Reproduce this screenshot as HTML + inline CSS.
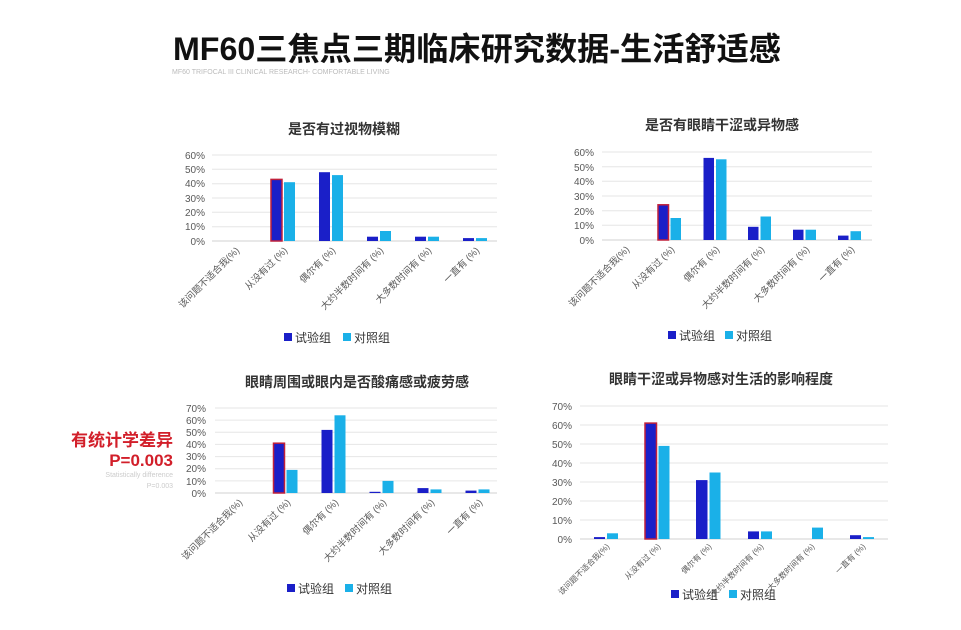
<!DOCTYPE html>
<html><head><meta charset="utf-8"><style>
html,body{margin:0;padding:0;background:#fff;}
svg{display:block;font-family:"Liberation Sans","Noto Sans CJK SC",sans-serif;}
.g{stroke:#e6e6e6;stroke-width:1}
.yl{font-size:10px;fill:#595959;text-anchor:end}
.xl{font-size:9.5px;fill:#595959;text-anchor:end}
.xs{font-size:8px;fill:#595959;text-anchor:end}
.e{fill:#1a1fc8}.c{fill:#1ab0e8}
.r{fill:#1a1fc8;stroke:#c0203a;stroke-width:1.5}
.t{font-size:14px;font-weight:bold;fill:#333;text-anchor:middle}
.lg{font-size:12px;fill:#333}
</style></head><body>
<svg width="961" height="630" viewBox="0 0 961 630">
<text x="477" y="60" font-size="32" font-weight="bold" text-anchor="middle" fill="#111" textLength="608" lengthAdjust="spacingAndGlyphs">MF60三焦点三期临床研究数据-生活舒适感</text>
<text x="172" y="74" font-size="7" fill="#bbb">MF60 TRIFOCAL III CLINICAL RESEARCH- COMFORTABLE LIVING</text>

<!-- Chart 1 -->
<text class="t" x="344" y="134">是否有过视物模糊</text>
<g>
<line class="g" x1="212" x2="497" y1="155" y2="155"/><line class="g" x1="212" x2="497" y1="169.3" y2="169.3"/><line class="g" x1="212" x2="497" y1="183.7" y2="183.7"/><line class="g" x1="212" x2="497" y1="198" y2="198"/><line class="g" x1="212" x2="497" y1="212.3" y2="212.3"/><line class="g" x1="212" x2="497" y1="226.7" y2="226.7"/><line x1="212" x2="497" y1="241" y2="241" stroke="#d0d0d0"/>
<text class="yl" x="205" y="159">60%</text><text class="yl" x="205" y="173">50%</text><text class="yl" x="205" y="187">40%</text><text class="yl" x="205" y="202">30%</text><text class="yl" x="205" y="216">20%</text><text class="yl" x="205" y="230">10%</text><text class="yl" x="205" y="245">0%</text>
<rect class="r" x="271" y="179.4" width="11" height="61.6"/><rect class="c" x="284" y="182.2" width="11" height="58.8"/>
<rect class="e" x="319" y="172.2" width="11" height="68.8"/><rect class="c" x="332" y="175.1" width="11" height="65.9"/>
<rect class="e" x="367" y="236.7" width="11" height="4.3"/><rect class="c" x="380" y="231" width="11" height="10"/>
<rect class="e" x="415" y="236.7" width="11" height="4.3"/><rect class="c" x="428" y="236.7" width="11" height="4.3"/>
<rect class="e" x="463" y="238.1" width="11" height="2.9"/><rect class="c" x="476" y="238.1" width="11" height="2.9"/>
<text class="xl" transform="translate(240,251) rotate(-45)">该问题不适合我(%)</text>
<text class="xl" transform="translate(288,251) rotate(-45)">从没有过 (%)</text>
<text class="xl" transform="translate(336,251) rotate(-45)">偶尔有 (%)</text>
<text class="xl" transform="translate(384,251) rotate(-45)">大约半数时间有 (%)</text>
<text class="xl" transform="translate(432,251) rotate(-45)">大多数时间有 (%)</text>
<text class="xl" transform="translate(480,251) rotate(-45)">一直有 (%)</text>
<rect class="e" x="284" y="333" width="8" height="8"/><text class="lg" x="295" y="342">试验组</text>
<rect class="c" x="343" y="333" width="8" height="8"/><text class="lg" x="354" y="342">对照组</text>
</g>

<!-- Chart 2 -->
<text class="t" x="722" y="130">是否有眼睛干涩或异物感</text>
<g>
<line class="g" x1="602" x2="872" y1="152" y2="152"/><line class="g" x1="602" x2="872" y1="166.7" y2="166.7"/><line class="g" x1="602" x2="872" y1="181.3" y2="181.3"/><line class="g" x1="602" x2="872" y1="196" y2="196"/><line class="g" x1="602" x2="872" y1="210.7" y2="210.7"/><line class="g" x1="602" x2="872" y1="225.3" y2="225.3"/><line x1="602" x2="872" y1="240" y2="240" stroke="#d0d0d0"/>
<text class="yl" x="594" y="156">60%</text><text class="yl" x="594" y="171">50%</text><text class="yl" x="594" y="185">40%</text><text class="yl" x="594" y="200">30%</text><text class="yl" x="594" y="215">20%</text><text class="yl" x="594" y="229">10%</text><text class="yl" x="594" y="244">0%</text>
<rect class="r" x="658" y="204.8" width="10.5" height="35.2"/><rect class="c" x="670.5" y="218" width="10.5" height="22"/>
<rect class="e" x="703.5" y="157.9" width="10.5" height="82.1"/><rect class="c" x="716" y="159.3" width="10.5" height="80.7"/>
<rect class="e" x="748" y="226.8" width="10.5" height="13.2"/><rect class="c" x="760.5" y="216.5" width="10.5" height="23.5"/>
<rect class="e" x="793" y="229.7" width="10.5" height="10.3"/><rect class="c" x="805.5" y="229.7" width="10.5" height="10.3"/>
<rect class="e" x="838" y="235.6" width="10.5" height="4.4"/><rect class="c" x="850.5" y="231.2" width="10.5" height="8.8"/>
<text class="xl" transform="translate(630,250) rotate(-45)">该问题不适合我(%)</text>
<text class="xl" transform="translate(675,250) rotate(-45)">从没有过 (%)</text>
<text class="xl" transform="translate(720,250) rotate(-45)">偶尔有 (%)</text>
<text class="xl" transform="translate(765,250) rotate(-45)">大约半数时间有 (%)</text>
<text class="xl" transform="translate(810,250) rotate(-45)">大多数时间有 (%)</text>
<text class="xl" transform="translate(855,250) rotate(-45)">一直有 (%)</text>
<rect class="e" x="668" y="331" width="8" height="8"/><text class="lg" x="679" y="340">试验组</text>
<rect class="c" x="725" y="331" width="8" height="8"/><text class="lg" x="736" y="340">对照组</text>
</g>

<!-- Chart 3 -->
<text class="t" x="357" y="387">眼睛周围或眼内是否酸痛感或疲劳感</text>
<text x="173" y="446" font-size="17" font-weight="bold" fill="#d21f2a" text-anchor="end">有统计学差异</text>
<text x="173" y="466" font-size="17" font-weight="bold" fill="#d21f2a" text-anchor="end">P=0.003</text>
<text x="173" y="477" font-size="7" fill="#ccc" text-anchor="end">Statistically difference</text>
<text x="173" y="488" font-size="7" fill="#ccc" text-anchor="end">P=0.003</text>
<g>
<line class="g" x1="215" x2="497" y1="408" y2="408"/><line class="g" x1="215" x2="497" y1="420.1" y2="420.1"/><line class="g" x1="215" x2="497" y1="432.3" y2="432.3"/><line class="g" x1="215" x2="497" y1="444.4" y2="444.4"/><line class="g" x1="215" x2="497" y1="456.6" y2="456.6"/><line class="g" x1="215" x2="497" y1="468.7" y2="468.7"/><line class="g" x1="215" x2="497" y1="480.9" y2="480.9"/><line x1="215" x2="497" y1="493" y2="493" stroke="#d0d0d0"/>
<text class="yl" x="206" y="412">70%</text><text class="yl" x="206" y="424">60%</text><text class="yl" x="206" y="436">50%</text><text class="yl" x="206" y="448">40%</text><text class="yl" x="206" y="460">30%</text><text class="yl" x="206" y="472">20%</text><text class="yl" x="206" y="485">10%</text><text class="yl" x="206" y="497">0%</text>
<rect class="r" x="273.5" y="443.2" width="11" height="49.8"/><rect class="c" x="286.5" y="469.9" width="11" height="23.1"/>
<rect class="e" x="321.5" y="429.9" width="11" height="63.1"/><rect class="c" x="334.5" y="415.3" width="11" height="77.7"/>
<rect class="e" x="369.5" y="491.8" width="11" height="1.2"/><rect class="c" x="382.5" y="480.9" width="11" height="12.1"/>
<rect class="e" x="417.5" y="488.1" width="11" height="4.9"/><rect class="c" x="430.5" y="489.4" width="11" height="3.6"/>
<rect class="e" x="465.5" y="490.6" width="11" height="2.4"/><rect class="c" x="478.5" y="489.4" width="11" height="3.6"/>
<text class="xl" transform="translate(243,503) rotate(-45)">该问题不适合我(%)</text>
<text class="xl" transform="translate(291,503) rotate(-45)">从没有过 (%)</text>
<text class="xl" transform="translate(339,503) rotate(-45)">偶尔有 (%)</text>
<text class="xl" transform="translate(387,503) rotate(-45)">大约半数时间有 (%)</text>
<text class="xl" transform="translate(435,503) rotate(-45)">大多数时间有 (%)</text>
<text class="xl" transform="translate(483,503) rotate(-45)">一直有 (%)</text>
<rect class="e" x="287" y="584" width="8" height="8"/><text class="lg" x="298" y="593">试验组</text>
<rect class="c" x="345" y="584" width="8" height="8"/><text class="lg" x="356" y="593">对照组</text>
</g>

<!-- Chart 4 -->
<text class="t" x="721" y="384">眼睛干涩或异物感对生活的影响程度</text>
<g>
<line class="g" x1="580" x2="888" y1="406" y2="406"/><line class="g" x1="580" x2="888" y1="425" y2="425"/><line class="g" x1="580" x2="888" y1="444" y2="444"/><line class="g" x1="580" x2="888" y1="463" y2="463"/><line class="g" x1="580" x2="888" y1="482" y2="482"/><line class="g" x1="580" x2="888" y1="501" y2="501"/><line class="g" x1="580" x2="888" y1="520" y2="520"/><line x1="580" x2="888" y1="539" y2="539" stroke="#d0d0d0"/>
<text class="yl" x="572" y="410">70%</text><text class="yl" x="572" y="429">60%</text><text class="yl" x="572" y="448">50%</text><text class="yl" x="572" y="467">40%</text><text class="yl" x="572" y="486">30%</text><text class="yl" x="572" y="505">20%</text><text class="yl" x="572" y="524">10%</text><text class="yl" x="572" y="543">0%</text>
<rect class="e" x="594" y="537.1" width="11" height="1.9"/><rect class="c" x="607" y="533.3" width="11" height="5.7"/>
<rect class="r" x="645" y="423.1" width="11.5" height="115.9"/><rect class="c" x="658.5" y="445.9" width="11" height="93.1"/>
<rect class="e" x="696" y="480.1" width="11.5" height="58.9"/><rect class="c" x="709.5" y="472.5" width="11" height="66.5"/>
<rect class="e" x="748" y="531.4" width="11" height="7.6"/><rect class="c" x="761" y="531.4" width="11" height="7.6"/>
<rect class="c" x="812" y="527.6" width="11" height="11.4"/>
<rect class="e" x="850" y="535.2" width="11" height="3.8"/><rect class="c" x="863" y="537.1" width="11" height="1.9"/>
<text class="xs" transform="translate(610,547) rotate(-45)">该问题不适合我(%)</text>
<text class="xs" transform="translate(661,547) rotate(-45)">从没有过 (%)</text>
<text class="xs" transform="translate(712,547) rotate(-45)">偶尔有 (%)</text>
<text class="xs" transform="translate(764,547) rotate(-45)">大约半数时间有 (%)</text>
<text class="xs" transform="translate(815,547) rotate(-45)">大多数时间有 (%)</text>
<text class="xs" transform="translate(866,547) rotate(-45)">一直有 (%)</text>
<rect class="e" x="671" y="590" width="8" height="8"/><text class="lg" x="682" y="599">试验组</text>
<rect class="c" x="729" y="590" width="8" height="8"/><text class="lg" x="740" y="599">对照组</text>
</g>
</svg>
</body></html>
